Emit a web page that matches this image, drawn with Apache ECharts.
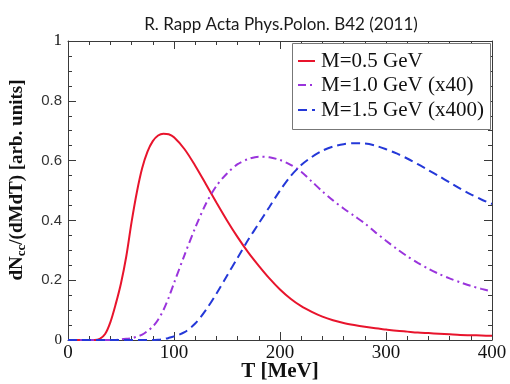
<!DOCTYPE html>
<html>
<head>
<meta charset="utf-8">
<script src="https://cdn.jsdelivr.net/npm/echarts@6/dist/echarts.min.js"></script>
<style>
  html, body { margin: 0; padding: 0; background: #fff; }
  #chart { width: 510px; height: 384px; }
</style>
</head>
<body>
<div id="chart"></div>
<script>
// Temperature grid in MeV
const temperature = [0, 10, 20, 25, 30, 35, 40, 45, 50, 55, 60, 65, 70, 75, 80, 85, 90, 95, 100,
  110, 120, 130, 140, 150, 160, 170, 180, 190, 200, 210, 220, 230, 240, 250, 260, 270, 280,
  290, 300, 310, 320, 330, 340, 350, 360, 370, 380, 390, 400];

// dN/(dMdT) for M = 0.5 GeV
const rateM05 = [0, 0, 0, 0, 0.004, 0.02, 0.06, 0.12, 0.19, 0.28, 0.395, 0.495, 0.575, 0.63, 0.665, 0.684, 0.69, 0.688, 0.678,
  0.638, 0.583, 0.522, 0.46, 0.40, 0.344, 0.293, 0.248, 0.206, 0.169, 0.138, 0.113, 0.094, 0.078, 0.066, 0.057, 0.05, 0.044,
  0.039, 0.035, 0.031, 0.028, 0.025, 0.023, 0.021, 0.019, 0.017, 0.016, 0.015, 0.014];

// dN/(dMdT) for M = 1.0 GeV, scaled by 40
const rateM10 = [0, 0, 0, 0, 0, 0, 0, 0, 0.002, 0.004, 0.006, 0.011, 0.018, 0.03, 0.045, 0.068, 0.1, 0.142, 0.19,
  0.285, 0.375, 0.455, 0.515, 0.557, 0.588, 0.605, 0.613, 0.611, 0.602, 0.586, 0.563, 0.53, 0.497, 0.467, 0.44, 0.415, 0.39,
  0.36, 0.332, 0.305, 0.28, 0.258, 0.238, 0.221, 0.206, 0.193, 0.181, 0.171, 0.162];

// dN/(dMdT) for M = 1.5 GeV, scaled by 400
const rateM15 = [0, 0, 0, 0, 0, 0, 0, 0, 0, 0, 0, 0, 0, 0, 0, 0.001, 0.003, 0.007, 0.012,
  0.026, 0.055, 0.1, 0.155, 0.215, 0.275, 0.335, 0.39, 0.445, 0.5, 0.548, 0.585, 0.612, 0.633, 0.647, 0.655, 0.658, 0.657,
  0.65, 0.638, 0.624, 0.607, 0.588, 0.568, 0.548, 0.527, 0.506, 0.487, 0.47, 0.455];

const seriesNames = ['M=0.5 GeV', 'M=1.0 GeV (x40)', 'M=1.5 GeV (x400)'];
const seriesColors = ['#e8142c', '#9a34dc', '#2438d8'];
const seriesDash = [null, [8, 4, 2, 4], [9, 5]];

const serif = '"Liberation Serif", "Times New Roman", serif';
const sans = '"Liberation Sans", Arial, sans-serif';
const frameColor = '#3a3a3a';

function pairs(xs, ys) { return xs.map((x, i) => [x, ys[i]]); }

// Shared look of the four frame axes: ticks point into the plot
function frameAxis(minorSplit, extra) {
  return Object.assign({
    axisLine: { show: true, onZero: false, lineStyle: { color: frameColor, width: 1 } },
    axisTick: { show: true, inside: true, length: 8, lineStyle: { color: frameColor } },
    minorTick: { show: true, splitNumber: minorSplit, length: 4, lineStyle: { color: frameColor } },
    splitLine: { show: false }
  }, extra);
}

// Boxed key in the upper right corner of the plot
const keyBox = { x: 292, y: 43, w: 198, h: 86 };
const keyRows = [61, 85, 110];
const keyGraphics = [{
  type: 'rect', z: 10,
  shape: { x: keyBox.x + 0.5, y: keyBox.y + 0.5, width: keyBox.w, height: keyBox.h },
  style: { fill: '#fff', stroke: '#777', lineWidth: 1 }
}];
seriesNames.forEach((name, i) => {
  keyGraphics.push({
    type: 'line', z: 11,
    shape: { x1: 298, y1: keyRows[i], x2: 315, y2: keyRows[i] },
    style: { stroke: seriesColors[i], lineWidth: 2, lineDash: seriesDash[i] || null }
  });
  keyGraphics.push({
    type: 'text', z: 11, x: 321, y: keyRows[i],
    style: { text: name, fontFamily: serif, fontSize: 21, fill: '#111', verticalAlign: 'middle', align: 'left' }
  });
});

const chart = echarts.init(document.getElementById('chart'));

chart.setOption({
  animation: false,
  backgroundColor: '#fff',
  title: {
    text: 'R. Rapp Acta Phys.Polon. B42 (2011)',
    left: 276, top: 11, textAlign: 'center',
    textStyle: { fontFamily: 'Lato, "Open Sans", sans-serif', fontWeight: 'normal', fontSize: 17, color: '#1a1a1a' }
  },
  grid: { left: 68, right: 18, top: 41, bottom: 44, outerBoundsMode: 'none', containLabel: false },
  xAxis: [
    frameAxis(5, {
      type: 'value', min: 0, max: 400, interval: 100, position: 'bottom',
      name: 'T [MeV]', nameLocation: 'middle', nameGap: 21, nameMoveOverlap: false,
      nameTextStyle: { fontFamily: serif, fontWeight: 'bold', fontSize: 21, color: '#111', verticalAlign: 'top' },
      axisLabel: { fontFamily: serif, fontSize: 19, color: '#111', margin: 4 }
    }),
    frameAxis(5, {
      type: 'value', min: 0, max: 400, interval: 100, position: 'top',
      axisLabel: { show: false }
    })
  ],
  yAxis: [
    frameAxis(4, {
      type: 'value', min: 0, max: 1, interval: 0.2, position: 'left',
      axisLabel: {
        margin: 6,
        formatter: function (v) {
          if (v === 0) return '{z|0}';
          if (v === 1) return '{s|1}';
          return '{n|' + v.toFixed(1) + '}';
        },
        rich: {
          s: { fontFamily: serif, fontSize: 17, color: '#111' },
          z: { fontFamily: serif, fontSize: 15, color: '#111' },
          n: { fontFamily: sans, fontSize: 15, color: '#333' }
        }
      }
    }),
    frameAxis(4, {
      type: 'value', min: 0, max: 1, interval: 0.2, position: 'right',
      axisLabel: { show: false }
    })
  ],
  graphic: [{
    type: 'text',
    x: 17, y: 180,
    rotation: Math.PI / 2,
    style: {
      text: '{b|dN}{sub|cc}{b|/(dMdT) [arb. units]}',
      align: 'center', verticalAlign: 'middle',
      rich: {
        b: { fontFamily: serif, fontWeight: 'bold', fontSize: 19, fill: '#111', verticalAlign: 'middle' },
        sub: { fontFamily: serif, fontWeight: 'bold', fontSize: 13, fill: '#111', verticalAlign: 'bottom', padding: [10, 0, 0, 0] }
      }
    }
  }].concat(keyGraphics),
  series: seriesNames.map((name, i) => ({
    name: name, type: 'line',
    data: pairs(temperature, [rateM05, rateM10, rateM15][i]),
    symbol: 'none', smooth: 0.3,
    lineStyle: { color: seriesColors[i], width: 2, type: seriesDash[i] || 'solid' },
    itemStyle: { color: seriesColors[i] }
  }))
});
</script>
</body>
</html>
